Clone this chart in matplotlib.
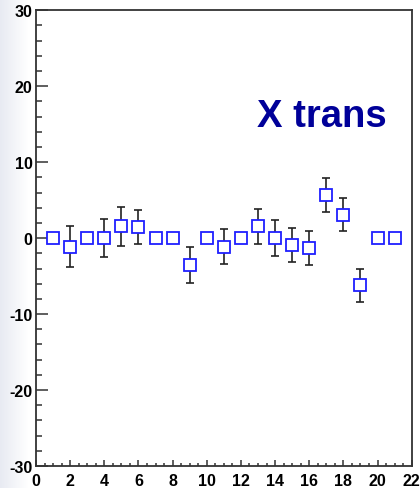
import numpy as np
import matplotlib
matplotlib.use("Agg")
import matplotlib.pyplot as plt
from matplotlib.ticker import MultipleLocator

plt.rcParams["font.family"] = ["Liberation Sans", "DejaVu Sans"]
plt.rcParams["axes.unicode_minus"] = False

# per-bin X translation and its uncertainty (0 = no error bar)
bins = [1, 2, 3, 4, 5, 6, 7, 8, 9, 10, 11, 12, 13, 14, 15, 16, 17, 18, 19, 20, 21]
x_trans = [0.0, -1.1, 0.0, 0.0, 1.55, 1.45, 0.0, 0.0, -3.55, 0.0, -1.15, 0.0,
           1.55, 0.0, -0.95, -1.35, 5.7, 3.1, -6.2, 0.0, 0.0]
x_err = [0.0, 2.65, 0.0, 2.5, 2.55, 2.2, 0.0, 0.0, 2.4, 0.0, 2.3, 0.0,
         2.35, 2.4, 2.25, 2.25, 2.25, 2.2, 2.2, 0.0, 0.0]

W, H = 420, 489
fig = plt.figure(figsize=(W / 100, H / 100), dpi=100)
fig.patch.set_facecolor("white")

# soft grey-blue strip along the left edge of the canvas
bg = fig.add_axes([0, 0, 1, 1], zorder=-10)
grad = np.linspace(0, 1, 420)
fade = np.clip(grad * 420 / 28, 0, 1)
img = np.ones((2, 420, 3))
base = np.array([0.91, 0.92, 0.95])
for c in range(3):
    img[:, :, c] = base[c] + (1 - base[c]) * fade
bg.imshow(img, aspect="auto", extent=[0, 1, 0, 1])
bg.axis("off")

ax = fig.add_axes([36 / W, 1 - 467 / H, (411.7 - 36) / W, (467 - 11.3) / H])
ax.set_facecolor("white")

b = np.array(bins)
y = np.array(x_trans)
e = np.array(x_err)
has = e > 0
ax.errorbar(b[has], y[has], yerr=e[has], fmt="none", ecolor="#222222",
            elinewidth=1.2, capsize=3.2, capthick=1.2, zorder=2)
ax.plot(b, y, ls="none", marker="s", ms=8, mfc="white", mec="#1f1fff",
        mew=1.3, zorder=3)

ax.set_xlim(0, 22)
ax.set_ylim(-30, 30)
ax.xaxis.set_major_locator(MultipleLocator(2))
ax.xaxis.set_minor_locator(MultipleLocator(0.5))
ax.yaxis.set_major_locator(MultipleLocator(10))
ax.yaxis.set_minor_locator(MultipleLocator(2))

ax.tick_params(axis="both", which="both", direction="in", top=False, right=False,
               colors="#333333", width=1.1)
ax.tick_params(axis="y", which="major", length=8.6, labelsize=11.5, pad=2.5)
ax.tick_params(axis="y", which="minor", length=4.3)
ax.tick_params(axis="x", which="major", length=4.5, labelsize=11.5, pad=5)
ax.tick_params(axis="x", which="minor", length=2.3)
for lbl in ax.get_xticklabels() + ax.get_yticklabels():
    lbl.set_fontweight("bold")
    lbl.set_color("black")
for sp in ax.spines.values():
    sp.set_color("#333333")
    sp.set_linewidth(1.3)

ax.text(0.761, 0.767, "X trans", transform=ax.transAxes, ha="center", va="center",
        fontsize=27.5, fontweight="bold", color="#000099")

fig.savefig("out.png", dpi=100)
